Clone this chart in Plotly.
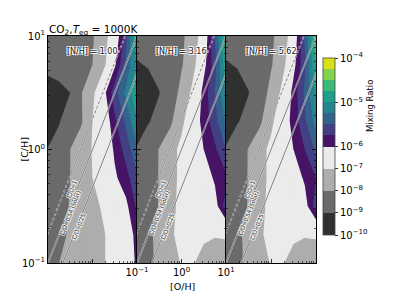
import numpy as np
import plotly.graph_objects as go

W, H = 394, 296

# ---------------- data ----------------
# grid exponents: log10 [O/H] (columns) and log10 [C/H] (rows, bottom -> top)
log_OH = [-1.0, -0.75, -0.5, -0.25, 0.0, 0.25, 0.5, 0.75, 1.0]
log_CH = [-1.0, -0.75, -0.5, -0.25, 0.0, 0.25, 0.5, 0.75, 1.0]

# log10 CO2 mixing ratio, rows = log_CH (bottom -> top)
logX_NH100 = [
    [-8.4, -8.0, -7.8, -7.55, -7.3, -7.05, -6.7, -6.4, -5.95],
    [-8.5, -8.2, -7.9, -7.6, -7.3, -7.05, -6.7, -6.4, -5.9],
    [-8.6, -8.3, -7.95, -7.6, -7.2, -6.9, -6.6, -6.15, -5.7],
    [-8.7, -8.4, -8.0, -7.5, -7.0, -6.7, -6.1, -5.85, -5.55],
    [-8.98, -8.7, -8.0, -7.5, -6.95, -6.6, -5.95, -5.65, -5.3],
    [-9.25, -9.05, -8.6, -8.1, -7.0, -6.5, -5.8, -5.45, -5.0],
    [-9.3, -9.2, -9.0, -8.05, -7.2, -6.2, -5.6, -5.2, -4.8],
    [-8.8, -8.7, -8.6, -8.4, -8.0, -7.2, -6.1, -5.45, -4.95],
    [-8.6, -8.5, -8.4, -8.3, -8.1, -7.3, -6.5, -5.6, -4.7],
]
logX_NH316 = [
    [-8.4, -8.2, -7.8, -7.3, -6.95, -6.95, -7.2, -7.4, -7.5],
    [-8.4, -8.15, -7.8, -7.1, -6.8, -6.8, -6.9, -6.95, -6.9],
    [-8.5, -8.25, -7.97, -7.2, -6.8, -6.7, -6.6, -6.3, -5.6],
    [-8.6, -8.3, -7.97, -7.3, -6.8, -6.6, -6.4, -5.95, -5.8],
    [-8.95, -8.6, -7.95, -7.3, -6.8, -6.4, -6.0, -5.8, -5.5],
    [-9.3, -9.05, -8.8, -8.2, -7.2, -6.4, -5.9, -5.6, -5.2],
    [-9.4, -9.3, -9.02, -8.6, -7.7, -6.8, -5.9, -5.5, -5.0],
    [-9.05, -8.95, -8.8, -8.6, -8.1, -7.3, -6.2, -5.6, -4.8],
    [-8.7, -8.6, -8.5, -8.4, -8.2, -7.5, -6.5, -5.5, -4.6],
]
logX_NH562 = [
    [-8.4, -8.2, -7.8, -7.3, -6.95, -6.95, -7.2, -7.4, -7.5],
    [-8.4, -8.15, -7.8, -7.1, -6.8, -6.8, -6.9, -6.95, -6.9],
    [-8.5, -8.25, -7.97, -7.2, -6.8, -6.7, -6.6, -6.3, -5.6],
    [-8.6, -8.3, -7.97, -7.3, -6.8, -6.6, -6.4, -5.95, -5.75],
    [-8.95, -8.6, -7.95, -7.3, -6.8, -6.4, -6.0, -5.75, -5.45],
    [-9.3, -9.05, -8.8, -8.2, -7.2, -6.4, -5.9, -5.55, -5.15],
    [-9.4, -9.3, -9.02, -8.6, -7.7, -6.8, -5.9, -5.45, -4.95],
    [-9.05, -8.95, -8.8, -8.6, -8.1, -7.3, -6.2, -5.55, -4.75],
    [-8.7, -8.6, -8.5, -8.4, -8.2, -7.5, -6.5, -5.45, -4.5],
]
panel_grids = [logX_NH100, logX_NH316, logX_NH562]
NH_labels = ["[N/H] = 1.00", "[N/H] = 3.16", "[N/H] = 5.62"]

CO_ratios = [1.0, 0.54, 0.25]
CO_labels = ["C/O=1", "C/O=0.54 (Solar)", "C/O=0.25"]
CO_dash = ["3px,2px", "solid", "solid"]
solar_CO = 0.54
# label anchor positions (log10 O/H, log10 C/H)
CO_label_pos = [(-0.46, -0.35), (-0.50, -0.56), (-0.32, -0.68)]

cbar_exp = [-10, -9, -8, -7, -6, -5, -4]
band_edges = [-10, -9, -8, -7, -6, -5.75, -5.5, -5.25, -5.0, -4.75, -4.5, -4.25, -4.0]
band_colors = ["#303030", "#6a6a6a", "#adadad", "#ebebeb",
               "#471365", "#423f85", "#33628d", "#26828e",
               "#1f9e89", "#3bbb75", "#84d44b", "#d8e219"]

major_vals = [0.1, 1, 10]
minor_vals = [0.2, 0.3, 0.4, 0.5, 0.6, 0.7, 0.8, 0.9, 2, 3, 4, 5, 6, 7, 8, 9]
major_text = ["10<sup>\u22121</sup>", "10<sup>0</sup>", "10<sup>1</sup>"]

# ---------------- helpers ----------------
def squash(v):
    """grey part of the colour scale (below 1e-6) takes half the room per decade"""
    a = np.asarray(v, float)
    return np.where(a < -6, -6 + (a + 6) / 2, a)

def step_scale(z0, z1):
    edges = squash(band_edges)
    cs = []
    for k, c in enumerate(band_colors):
        fa = min(max((edges[k] - z0) / (z1 - z0), 0), 1)
        fb = min(max((edges[k + 1] - z0) / (z1 - z0), 0), 1)
        cs.append([fa, c])
        cs.append([fb, c])
    cs[0][0] = 0.0
    cs[-1][0] = 1.0
    return cs

OH = [10 ** e for e in log_OH]
CH = [10 ** e for e in log_CH]

# geometry
panel_x = [(48, 137), (137, 226), (226, 316)]
y_top, y_bot = 36, 263
ydom = [(H - y_bot) / H, (H - y_top) / H]

C_START, C_END, C_SIZE = -7.75, -4.25, 0.25
contour_cs = step_scale(C_START - C_SIZE / 2, C_END + C_SIZE / 2)

fig = go.Figure()
FONT = "DejaVu Sans"
SHADOW = "1px 1px 0 #fff, -1px -1px 0 #fff, 1px -1px 0 #fff, -1px 1px 0 #fff"

for i, grid in enumerate(panel_grids):
    xa = "x" if i == 0 else f"x{i+1}"
    ya = "y" if i == 0 else f"y{i+1}"
    fig.add_trace(go.Contour(
        x=OH, y=CH, z=squash(grid), xaxis=xa, yaxis=ya,
        colorscale=contour_cs, autocontour=False,
        contours=dict(start=C_START, end=C_END, size=C_SIZE,
                      coloring="fill", showlines=False),
        line=dict(width=0, smoothing=0), showscale=False, hoverinfo="skip"))
    xl = np.array([1e-2, 1e2])
    for ratio, dash in zip(CO_ratios, CO_dash):
        yl = xl * ratio / solar_CO
        fig.add_trace(go.Scatter(x=xl, y=yl, xaxis=xa, yaxis=ya, mode="lines",
                                 line=dict(color="rgba(255,255,255,0.75)", width=1.6, dash=dash),
                                 showlegend=False, hoverinfo="skip"))
        fig.add_trace(go.Scatter(x=xl, y=yl, xaxis=xa, yaxis=ya, mode="lines",
                                 line=dict(color="#5a5a5a", width=0.8, dash=dash),
                                 showlegend=False, hoverinfo="skip"))

# colour bar (dummy point outside the axes)
fig.add_trace(go.Scatter(
    x=[1e-5], y=[1e-5], xaxis="x3", yaxis="y3", mode="markers",
    marker=dict(color=[-6], colorscale=step_scale(-8, -4), cmin=-8, cmax=-4,
                showscale=True,
                colorbar=dict(thickness=12, thicknessmode="pixels",
                              len=177, lenmode="pixels",
                              x=323 / W, xanchor="left", xref="paper", xpad=0,
                              y=1 - 146.5 / H, yanchor="middle", ypad=0,
                              outlinewidth=0.8, outlinecolor="#444",
                              tickvals=list(squash(cbar_exp)),
                              ticktext=[f"10<sup>\u2212{-e}</sup>" for e in cbar_exp],
                              ticks="outside", ticklen=3, tickwidth=0.8, tickcolor="black",
                              tickfont=dict(size=10, family=FONT, color="black"))),
    showlegend=False, hoverinfo="skip"))

# pixel slope of a constant-C/O line -> text angle
px_per_dec_x = (panel_x[0][1] - panel_x[0][0]) / 2
px_per_dec_y = (y_bot - y_top) / 2
angle = -np.degrees(np.arctan(px_per_dec_y / px_per_dec_x))

layout = dict(width=W, height=H, autosize=False, template="none",
              margin=dict(l=0, r=0, t=0, b=0, pad=0),
              paper_bgcolor="white", plot_bgcolor="white",
              font=dict(family=FONT, size=10, color="black"),
              showlegend=False, hovermode=False)

annotations = []
for i in range(3):
    sx = "" if i == 0 else str(i + 1)
    x0, x1 = panel_x[i]
    common = dict(
        type="log", range=[-1, 1], automargin=False,
        showline=True, linecolor="black", linewidth=1,
        showgrid=False, zeroline=False,
        tickmode="array", tickvals=major_vals, ticktext=major_text,
        ticks="inside", ticklen=4, tickwidth=0.8, tickcolor="black",
        tickfont=dict(size=10, family=FONT, color="black"),
        minor=dict(ticks="inside", ticklen=2, tickwidth=0.6, tickcolor="black",
                   tickvals=minor_vals, showgrid=False))
    layout[f"xaxis{sx}"] = dict(common, domain=[x0 / W, x1 / W], anchor=f"y{sx}",
                                mirror=True, showticklabels=(i == 1))
    layout[f"yaxis{sx}"] = dict(common, domain=ydom, anchor=f"x{sx}",
                                mirror="ticks", showticklabels=(i == 0))
    annotations.append(dict(
        text=NH_labels[i], xref="paper", yref="paper",
        x=(x0 + x1) / 2 / W, xanchor="center", y=1 - 45 / H, showarrow=False,
        font=dict(size=8, family=FONT, color="#222", shadow=SHADOW)))
    for lab, (lu, lv) in zip(CO_labels, CO_label_pos):
        annotations.append(dict(
            text=lab, xref=f"x{sx}", yref=f"y{sx}", x=lu, y=lv,
            showarrow=False, textangle=angle,
            font=dict(size=5.5, family=FONT, color="#333", shadow=SHADOW)))

annotations += [
    dict(text="CO<sub>2</sub>,<i>T</i><sub>eq</sub> = 1000K", xref="paper", yref="paper",
         x=47 / W, y=1 - 39 / H, xanchor="left", yanchor="bottom", showarrow=False,
         font=dict(size=10.5, family=FONT, color="black")),
    dict(text="[C/H]", xref="paper", yref="paper", x=16 / W, y=1 - 150 / H,
         textangle=-90, showarrow=False, font=dict(size=9.5, family=FONT, color="black")),
    dict(text="[O/H]", xref="paper", yref="paper", x=182 / W, y=1 - 294 / H,
         yanchor="bottom", showarrow=False, font=dict(size=9.5, family=FONT, color="black")),
    dict(text="Mixing Ratio", xref="paper", yref="paper", x=377 / W, y=1 - 106 / H,
         textangle=-90, showarrow=False, font=dict(size=8.5, family=FONT, color="black")),
]
layout["annotations"] = annotations
fig.update_layout(**layout)

fig.write_html("out.html", config={"displayModeBar": False, "staticPlot": True},
               post_script="document.body.style.margin='0';document.body.style.padding='0';")
